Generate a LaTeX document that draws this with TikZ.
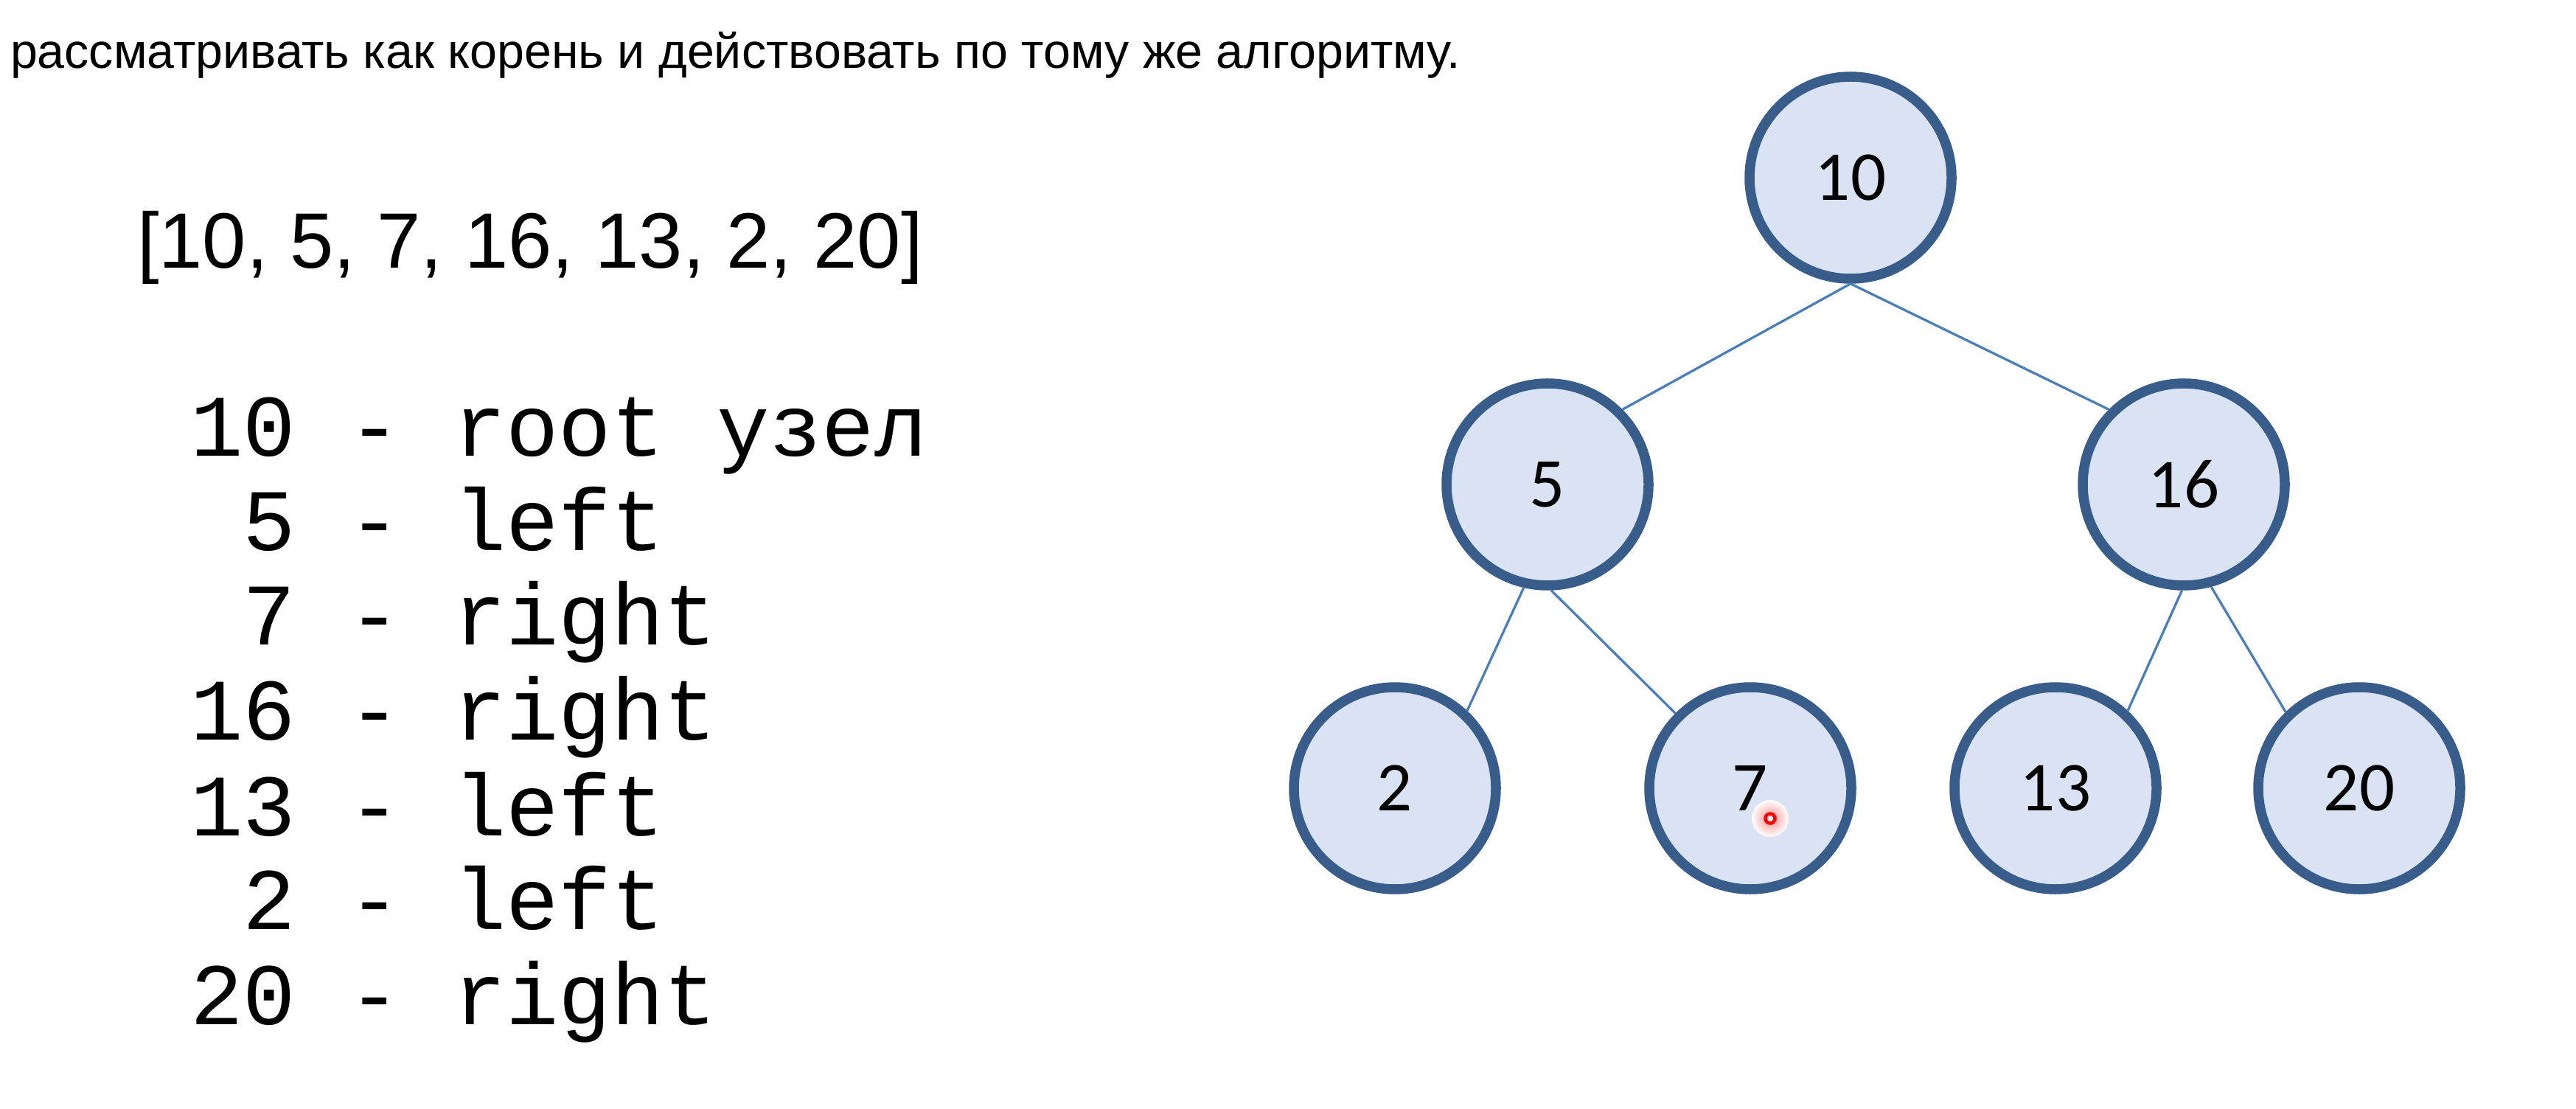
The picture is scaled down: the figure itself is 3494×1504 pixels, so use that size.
\documentclass[tikz,border=0pt]{standalone}
\usepackage{fontspec}
\setmainfont{Liberation Sans}
\newfontfamily\monof{Liberation Mono}
\newfontfamily\nodef{Carlito}
\definecolor{nodefill}{HTML}{DAE3F3}
\definecolor{nodeborder}{HTML}{385D8A}
\definecolor{edgecol}{HTML}{4A7EBB}
\tikzset{
  treenode/.style={circle, draw=nodeborder, fill=nodefill, line width=2.7pt,
    minimum size=54.8pt, inner sep=0pt, font=\nodef\fontsize{19pt}{19pt}\selectfont},
  treeline/.style={draw=edgecol, line width=0.65pt},
  monoline/.style={anchor=base west, inner sep=0pt, font=\monof\fontsize{23.8pt}{23.8pt}\selectfont},
  toptext/.style={anchor=base west, inner sep=0pt, font=\fontsize{13.27pt}{13.27pt}\selectfont},
  arraytext/.style={anchor=base west, inner sep=0pt, font=\fontsize{21.3pt}{21.3pt}\selectfont}
}
\begin{document}
\begin{tikzpicture}[x=0.2pt,y=-0.2pt]
\useasboundingbox[fill=white] (0,0) rectangle (3494,1504);
% texts
\node[toptext] (top) at (13,93) {рассматривать как корень и действовать по тому же алгоритму.};
\node[arraytext] (arr) at (185,364) {[10, 5, 7, 16, 13, 2, 20]};
\node[monoline] (l1) at (257,619) {10 - root узел};
\node[monoline] (l2) at (257,747) {\phantom{1}5 - left};
\node[monoline] (l3) at (257,874) {\phantom{1}7 - right};
\node[monoline] (l4) at (257,1004) {16 - right};
\node[monoline] (l5) at (257,1133) {13 - left};
\node[monoline] (l6) at (257,1260) {\phantom{1}2 - left};
\node[monoline] (l7) at (257,1389) {20 - right};
% tree
\node[treenode] (n10) at (2510,241) {10};
\node[treenode] (n5)  at (2099,657) {5};
\node[treenode] (n16) at (2962,657) {16};
\node[treenode] (n2)  at (1892,1069) {2};
\node[treenode] (n7)  at (2374,1069) {7};
\node[treenode] (n13) at (2788,1069) {13};
\node[treenode] (n20) at (3200,1069) {20};
\draw[treeline] (n10.-90) -- (n5.45);
\draw[treeline] (n10.-90) -- (n16.135);
\draw[treeline] (n5.-103) -- (n2.47);
\draw[treeline] (n5.-88) -- (n7.135);
\draw[treeline] (n16.-91) -- (n13.47);
\draw[treeline] (n16.-75) -- (n20.134);
% cursor marker
\shade[inner color=red!45, outer color=white] (2401,1110) circle (5pt);
\draw[red, line width=0.9pt, fill=red!10] (2401,1110) circle (1.3pt);
\end{tikzpicture}
\end{document}
